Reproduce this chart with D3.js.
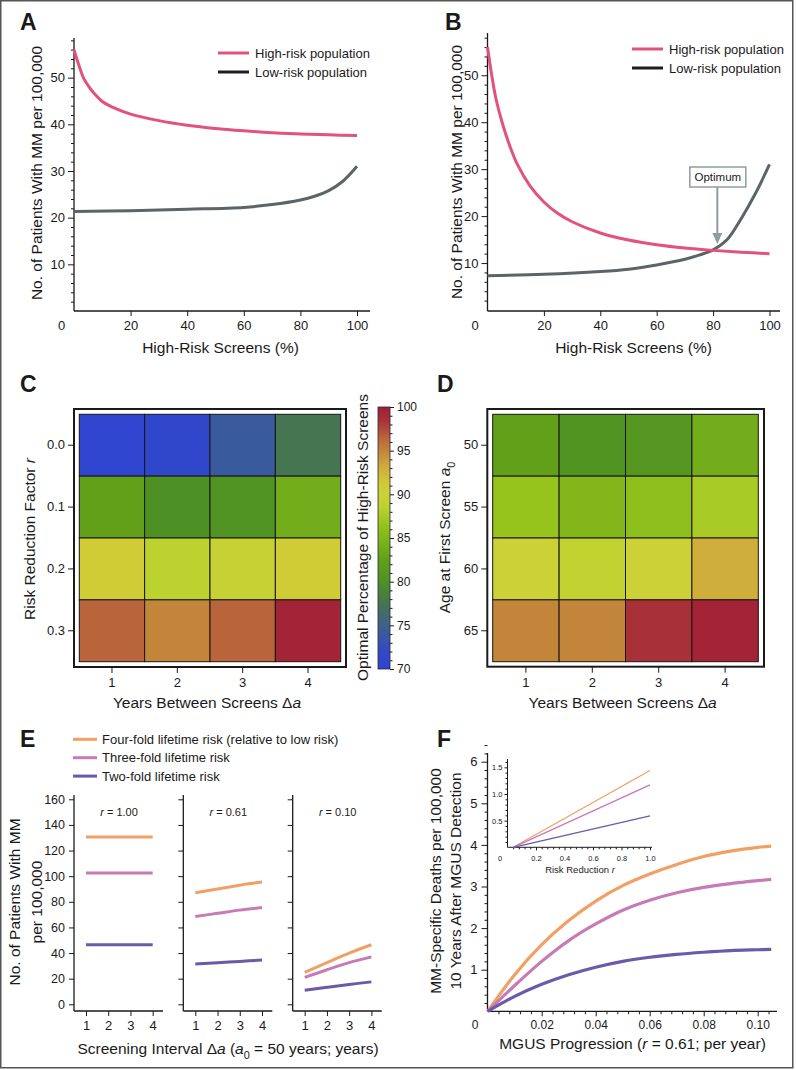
<!DOCTYPE html>
<html>
<head>
<meta charset="utf-8">
<script src="https://cdn.jsdelivr.net/npm/d3@7"></script>
<style>
body { margin: 0; background: #fff; }
svg { display: block; }
text { font-family: "Liberation Sans", Arial, Helvetica, sans-serif; fill: #1a1a1a; }
</style>
</head>
<body>
<script>
// ---- data ----

// panel A
const pctHighA = [0, 1, 2, 3.3, 5, 7, 10, 15, 20, 30, 40, 50, 60, 70, 80, 90, 100];
const highRiskA = [56, 54, 52.2, 50, 48.3, 46.7, 44.9, 43.3, 42.2, 40.8, 39.8, 39.1, 38.6, 38.2, 37.95, 37.75, 37.6];
const pctLowA = [0, 20, 40, 60, 70, 80, 85, 90, 95, 100];
const lowRiskA = [21.3, 21.5, 21.8, 22.2, 22.8, 23.8, 24.6, 25.8, 27.8, 31];

// panel B
const pctHighB = [0, 1.5, 3, 5.4, 8, 10.6, 15, 20, 24.6, 30, 40, 50, 60, 70, 80, 90, 100];
const highRiskB = [56, 50, 45, 39.5, 34.8, 31, 26.5, 23, 20.7, 18.8, 16.4, 14.9, 13.9, 13.2, 12.7, 12.3, 12.0];
const pctLowB = [0, 20, 40, 50, 60, 70, 75, 80, 85, 90, 95, 100];
const lowRiskB = [7.3, 7.6, 8.2, 8.7, 9.6, 10.8, 11.7, 12.8, 15, 19.5, 24.8, 31];
const optimumPct = 81.5;

const legendAB = ["High-risk population", "Low-risk population"];
const pctTicks = [0, 20, 40, 60, 80, 100];
const countTicks = [10, 20, 30, 40, 50];

// panels C and D (optimal percentage of high-risk screens)
const yearsBetween = [1, 2, 3, 4];
const riskFactors = ["0.0", "0.1", "0.2", "0.3"];
const optimalC = [
    [70.5, 71, 74, 77.5],
    [82.5, 80, 80.3, 84],
    [91, 88.5, 89.5, 91],
    [96.5, 95, 96.5, 99.5]
];
const firstAges = ["50", "55", "60", "65"];
const optimalD = [
    [82.5, 80.5, 81, 84],
    [86.5, 85, 86, 87.5],
    [90, 89, 90, 93],
    [95, 95, 98.5, 99.5]
];
const colorStops = [70, 72, 74, 77.5, 80, 82.5, 84, 86.5, 88.5, 90, 91, 93, 95, 96.5, 98.5, 100];
const colorHex = ["#2e44d2", "#3349c4", "#3a5a9e", "#457551", "#4d9124", "#62a01a", "#74ad1b", "#96c31c",
    "#bcd22e", "#cbd137", "#cfcc35", "#d0ae3c", "#c2853a", "#b9643a", "#a83038", "#a11e36"];
const colorbarTicks = [70, 75, 80, 85, 90, 95, 100];

// panel E
const intervalsE = [1, 2, 3, 4];
const rValuesE = ["1.00", "0.61", "0.10"];
const fourFoldE = [[130.5, 130.5, 130.5, 130.5], [87, 90, 93, 95.5], [25, 32.5, 40, 46.5]];
const threeFoldE = [[102.5, 102.5, 102.5, 102.5], [68.5, 71, 73.5, 75.5], [21, 27, 32.5, 37]];
const twoFoldE = [[46.5, 46.5, 46.5, 46.5], [31.5, 32.5, 33.5, 34.5], [11, 13.3, 15.5, 17.5]];
const foldLabels = ["Four-fold lifetime risk (relative to low risk)", "Three-fold lifetime risk", "Two-fold lifetime risk"];
const countTicksE = [0, 20, 40, 60, 80, 100, 120, 140, 160];

// panel F
const progression = [0, 0.01, 0.02, 0.03, 0.04, 0.05, 0.06, 0.07, 0.08, 0.09, 0.1, 0.105];
const fourFoldF = [0, 0.88, 1.6, 2.18, 2.65, 3.02, 3.3, 3.53, 3.72, 3.85, 3.94, 3.97];
const threeFoldF = [0, 0.62, 1.2, 1.7, 2.1, 2.43, 2.67, 2.85, 2.98, 3.07, 3.14, 3.17];
const twoFoldF = [0, 0.36, 0.65, 0.88, 1.06, 1.2, 1.3, 1.37, 1.42, 1.46, 1.48, 1.49];
const progTicks = [0, 0.02, 0.04, 0.06, 0.08, 0.10];
const deathTicks = [1, 2, 3, 4, 5, 6];
// inset
const riskReduction = [0.04, 1.0];
const fourFoldInset = [0, 1.44];
const threeFoldInset = [0, 1.17];
const twoFoldInset = [0, 0.59];
const insetXTicks = [0, 0.2, 0.4, 0.6, 0.8, 1.0];
const insetYTicks = [0.5, 1.0, 1.5];

// ---- drawing ----
const ink = "#1a1a1a";
const pink = "#e2527a", lowGray = "#5b6466";
const orange = "#f0a064", mauve = "#c77bb6", purple = "#6a5aa9";
const foldColors = [orange, mauve, purple];
const titleSize = 15.5;
const smooth = d3.curveCatmullRom.alpha(0.5);

var svg = d3.select("body").append("svg").attr("width", 796).attr("height", 1070);

function translate(x, y) {
    return "translate(" + String(x) + "," + String(y) + ")";
}

// outer frame of the figure
svg.append("rect")
    .attr("x", 0.75).attr("y", 0.75)
    .attr("width", 792).attr("height", 1067)
    .attr("fill", "none").attr("stroke", "#555").attr("stroke-width", 1.5);

function panelLetter(ch, x, y) {
    svg.append("text").attr("x", x).attr("y", y)
        .style("font-size", "23px").style("font-weight", "bold").text(ch);
}

// ticks from a d3 axis, without its domain path; fmt null = no labels
function axisTicks(g, gen, scale, values, size, fmt, fontSize, pad) {
    let a = gen(scale).tickValues(values).tickSize(size).tickSizeOuter(0).tickPadding(pad);
    if (fmt) a.tickFormat(fmt);
    let s = g.append("g").call(a);
    s.select(".domain").remove();
    s.selectAll("line").attr("stroke", ink);
    if (fmt === null) {
        s.selectAll("text").remove();
    } else {
        s.selectAll("text").attr("fill", ink)
            .style("font-size", fontSize + "px")
            .style("font-family", "'Liberation Sans', Arial, sans-serif");
    }
    return s;
}

function hline(g, x1, x2, y, w) {
    g.append("line").attr("x1", x1).attr("x2", x2).attr("y1", y).attr("y2", y)
        .attr("stroke", ink).attr("stroke-width", w || 1.3);
}
function vline(g, x, y1, y2, w) {
    g.append("line").attr("x1", x).attr("x2", x).attr("y1", y1).attr("y2", y2)
        .attr("stroke", ink).attr("stroke-width", w || 1.3);
}

// text made of parts, some italic or subscript
function richText(g, x, y, parts, size, rotate) {
    let t = g.append("text")
        .attr("text-anchor", "middle")
        .attr("transform", translate(x, y) + (rotate ? " rotate(-90)" : ""))
        .style("font-size", size + "px");
    if (rotate) t.attr("dy", "0.35em");
    parts.forEach(function(p) {
        if (typeof p === "string") p = {t: p};
        let s = t.append("tspan").text(p.t);
        if (p.i) s.style("font-style", "italic");
        if (p.sub) s.attr("dy", size * 0.3).style("font-size", (size * 0.7) + "px");
        if (p.up) s.attr("dy", -size * 0.3);
    });
    return t;
}

function minorValues(lo, hi, step, majorStep) {
    return d3.range(lo, hi + step / 2, step)
        .map(v => +v.toFixed(4))
        .filter(v => Math.abs(v / majorStep - Math.round(v / majorStep)) > 1e-6);
}

// ---- panels A and B ----
function riskPanel(p) {
    let g = svg.append("g");
    let x = d3.scaleLinear().domain([0, 100]).range(p.xr);
    let y = d3.scaleLinear().domain([0, p.ymax]).range(p.yr);

    let yg = g.append("g").attr("transform", translate(x(0), 0));
    axisTicks(yg, d3.axisLeft, y, countTicks, 6, d3.format("d"), 13, 3);
    axisTicks(yg, d3.axisLeft, y, minorValues(2, 58, 2, 10), 3, null, 13, 3);
    let xg = g.append("g").attr("transform", translate(0, p.axisY));
    let xt = axisTicks(xg, d3.axisBottom, x, pctTicks, 5, d3.format("d"), 13, 5);
    xt.selectAll(".tick").filter(d => d === 0).select("line").remove();
    xt.selectAll(".tick").filter(d => d === 0).select("text").attr("x", -13);

    vline(g, x(0), p.top, p.axisY);
    hline(g, x(0), p.xEnd, p.axisY);

    let lineHigh = d3.line().x((d, i) => x(p.pctHigh[i])).y(d => y(d)).curve(smooth);
    let lineLow = d3.line().x((d, i) => x(p.pctLow[i])).y(d => y(d)).curve(smooth);
    g.append("path").attr("d", lineLow(p.low)).attr("fill", "none")
        .attr("stroke", lowGray).attr("stroke-width", 3);
    g.append("path").attr("d", lineHigh(p.high)).attr("fill", "none")
        .attr("stroke", pink).attr("stroke-width", 3);

    // legend
    let colors = [pink, "#1e1e1e"];
    legendAB.forEach(function(name, i) {
        let ly = p.legend[1] + i * 19;
        g.append("line").attr("x1", p.legend[0]).attr("x2", p.legend[0] + 31)
            .attr("y1", ly).attr("y2", ly).attr("stroke", colors[i]).attr("stroke-width", 3);
        g.append("text").attr("x", p.legend[0] + 37).attr("y", ly).attr("dy", "0.36em")
            .style("font-size", "13px").text(name);
    });

    richText(g, p.ylab[0], p.ylab[1], ["No. of Patients With MM per 100,000"], titleSize, true);
    richText(g, (p.xr[0] + p.xr[1]) / 2 + 5, p.axisY + 42, ["High-Risk Screens (%)"], titleSize, false);
    return {g: g, x: x, y: y};
}

panelLetter("A", 20, 30);
riskPanel({
    xr: [74, 357], yr: [311, 38], ymax: 58.5, axisY: 311, top: 38, xEnd: 370,
    pctHigh: pctHighA, high: highRiskA, pctLow: pctLowA, low: lowRiskA,
    legend: [218, 53], ylab: [37, 173]
});

panelLetter("B", 445, 30);
let pB = riskPanel({
    xr: [487.5, 769.5], yr: [310, 33], ymax: 59, axisY: 311, top: 33, xEnd: 780,
    pctHigh: pctHighB, high: highRiskB, pctLow: pctLowB, low: lowRiskB,
    legend: [632, 49], ylab: [456.5, 172]
});

// optimum annotation
(function() {
    let ax = pB.x(optimumPct);
    let gray = "#8e9d9d";
    pB.g.append("line").attr("x1", ax).attr("x2", ax).attr("y1", 187).attr("y2", 235)
        .attr("stroke", gray).attr("stroke-width", 2);
    pB.g.append("path")
        .attr("d", "M" + (ax - 5) + ",233 L" + (ax + 5) + ",233 L" + ax + ",244 Z")
        .attr("fill", gray);
    pB.g.append("rect").attr("x", ax - 27.5).attr("y", 167).attr("width", 56).attr("height", 20)
        .attr("fill", "#fff").attr("stroke", gray).attr("stroke-width", 1.5);
    pB.g.append("text").attr("x", ax + 0.5).attr("y", 181).attr("text-anchor", "middle")
        .style("font-size", "11.5px").attr("fill", "#333").text("Optimum");
})();

// ---- panels C and D ----
const heatColor = d3.scaleLinear().domain(colorStops).range(colorHex).interpolate(d3.interpolateRgb);

function heatPanel(p) {
    let g = svg.append("g");
    g.append("rect")
        .attr("x", p.frame[0]).attr("y", p.frame[1])
        .attr("width", p.frame[2] - p.frame[0]).attr("height", p.frame[3] - p.frame[1])
        .attr("fill", "#fff").attr("stroke", ink).attr("stroke-width", 2);
    let x = d3.scaleBand().domain(yearsBetween).range([p.cells[0], p.cells[2]]);
    let y = d3.scaleBand().domain(p.rows).range([p.cells[1], p.cells[3]]);

    let cells = [];
    p.values.forEach(function(row, i) {
        row.forEach(function(v, j) {
            cells.push({row: p.rows[i], col: yearsBetween[j], v: v});
        });
    });
    g.selectAll("rect.cell").data(cells).enter().append("rect")
        .attr("class", "cell")
        .attr("x", d => x(d.col)).attr("y", d => y(d.row))
        .attr("width", x.bandwidth()).attr("height", y.bandwidth())
        .attr("fill", d => heatColor(d.v))
        .attr("stroke", "#161616").attr("stroke-width", 1);

    let yg = g.append("g").attr("transform", translate(p.frame[0], 0));
    axisTicks(yg, d3.axisLeft, y, p.rows, 6, undefined, 13, 3);
    let xg = g.append("g").attr("transform", translate(0, p.frame[3]));
    axisTicks(xg, d3.axisBottom, x, yearsBetween, 6, undefined, 13, 5);

    richText(g, p.ylab[0], p.ylab[1], p.ylabParts, titleSize, true);
    richText(g, (p.frame[0] + p.frame[2]) / 2 - 3, 708,
        ["Years Between Screens \u0394", {t: "a", i: true}], titleSize, false);
}

panelLetter("C", 20, 392);
heatPanel({
    frame: [74, 409, 346, 667], cells: [79.3, 414.3, 340.7, 661.7],
    rows: riskFactors, values: optimalC,
    ylab: [29.5, 539], ylabParts: ["Risk Reduction Factor ", {t: "r", i: true}]
});

panelLetter("D", 437, 392);
heatPanel({
    frame: [487.3, 409, 764, 666.7], cells: [492.7, 414.3, 758.3, 661.7],
    rows: firstAges, values: optimalD,
    ylab: [445, 537.5], ylabParts: ["Age at First Screen ", {t: "a", i: true}, {t: "0", sub: true}]
});

// colorbar
(function() {
    let g = svg.append("g");
    let c = d3.scaleLinear().domain([70, 100]).range([669, 407]);
    let grad = svg.append("defs").append("linearGradient").attr("id", "cbar")
        .attr("x1", 0).attr("y1", 1).attr("x2", 0).attr("y2", 0);
    grad.selectAll("stop").data(colorStops).enter().append("stop")
        .attr("offset", d => ((d - 70) / 30 * 100) + "%")
        .attr("stop-color", d => heatColor(d));
    g.append("rect").attr("x", 378).attr("y", c(100)).attr("width", 12).attr("height", c(70) - c(100))
        .attr("fill", "url(#cbar)").attr("stroke", "#2a2a3a").attr("stroke-width", 0.8);
    let ag = g.append("g").attr("transform", translate(390, 0));
    axisTicks(ag, d3.axisRight, c, colorbarTicks, 4, d3.format("d"), 12, 3);
    axisTicks(ag, d3.axisRight, c, minorValues(71, 99, 1, 5), 2.5, null, 12, 3);
    richText(g, 362.5, 537.5, ["Optimal Percentage of High-Risk Screens"], titleSize, true);
})();

// ---- panel E ----
panelLetter("E", 20, 747);
(function() {
    let g = svg.append("g");
    let y = d3.scaleLinear().domain([0, 160]).range([1004.3, 799.3]);
    let subX = [74, 183.3, 292.7];

    foldLabels.forEach(function(name, i) {
        let ly = 739.3 + i * 18.4;
        g.append("line").attr("x1", 73).attr("x2", 97).attr("y1", ly).attr("y2", ly)
            .attr("stroke", foldColors[i]).attr("stroke-width", 3);
        g.append("text").attr("x", 102).attr("y", ly).attr("dy", "0.36em")
            .style("font-size", "13px").text(name);
    });

    subX.forEach(function(ax, k) {
        let x = d3.scaleLinear().domain([1, 4]).range([ax + 12, ax + 78.7]);
        let yg = g.append("g").attr("transform", translate(ax, 0));
        axisTicks(yg, d3.axisLeft, y, countTicksE, 5, k === 0 ? d3.format("d") : null, 12.5, 4);
        let xg = g.append("g").attr("transform", translate(0, 1011));
        axisTicks(xg, d3.axisBottom, x, intervalsE, 5, d3.format("d"), 13, 5);
        vline(g, ax, 795, 1011);
        hline(g, ax, ax + 89, 1011);

        let line = d3.line().x((d, i) => x(intervalsE[i])).y(d => y(d)).curve(smooth);
        [fourFoldE, threeFoldE, twoFoldE].forEach(function(series, s) {
            g.append("path").attr("d", line(series[k])).attr("fill", "none")
                .attr("stroke", foldColors[s]).attr("stroke-width", 3);
        });

        let t = g.append("text").attr("x", ax + 45).attr("y", 816).attr("text-anchor", "middle")
            .style("font-size", "11px");
        t.append("tspan").style("font-style", "italic").text("r");
        t.append("tspan").text(" = " + rValuesE[k]);
    });

    richText(g, 14.5, 902, ["No. of Patients With MM"], titleSize, true);
    richText(g, 36.5, 902, ["per 100,000"], titleSize, true);
    richText(g, 228, 1054, ["Screening Interval \u0394", {t: "a", i: true}, " (", {t: "a", i: true},
        {t: "0", sub: true}, {t: " = 50 years; years)", up: true}], titleSize, false);
})();

// ---- panel F ----
panelLetter("F", 437, 747);
(function() {
    let g = svg.append("g");
    let x = d3.scaleLinear().domain([0, 0.1]).range([487.7, 757.7]);
    let y = d3.scaleLinear().domain([0, 6]).range([1011.3, 761.7]);

    let yg = g.append("g").attr("transform", translate(487.5, 0));
    axisTicks(yg, d3.axisLeft, y, deathTicks, 6, d3.format("d"), 13, 4);
    axisTicks(yg, d3.axisLeft, y, minorValues(0.2, 6.4, 0.2, 1), 3, null, 13, 3);
    let xg = g.append("g").attr("transform", translate(0, 1011.3));
    let xt = axisTicks(xg, d3.axisBottom, x, progTicks, 5, v => v === 0 ? "0" : d3.format(".2f")(v), 12, 4);
    xt.selectAll(".tick").filter(d => d === 0).select("line").remove();
    xt.selectAll(".tick").filter(d => d === 0).select("text").attr("x", -13);
    axisTicks(xg, d3.axisBottom, x, minorValues(0.004, 0.104, 0.004, 0.02), 3, null, 12, 3);
    vline(g, 487.5, 753, 1011.3);
    hline(g, 487.5, 777, 1011.3);

    let line = d3.line().x((d, i) => x(progression[i])).y(d => y(d)).curve(smooth);
    [fourFoldF, threeFoldF, twoFoldF].forEach(function(series, s) {
        g.append("path").attr("d", line(series)).attr("fill", "none")
            .attr("stroke", foldColors[s]).attr("stroke-width", 3.2);
    });

    richText(g, 436, 881, ["MM-Specific Deaths per 100,000"], titleSize, true);
    richText(g, 455.5, 881, ["10 Years After MGUS Detection"], titleSize, true);
    richText(g, 632.5, 1048.5, ["MGUS Progression (", {t: "r", i: true}, " = 0.61; per year)"], titleSize, false);

    // inset
    let ix = d3.scaleLinear().domain([0, 1]).range([507.5, 650]);
    let iy = d3.scaleLinear().domain([0, 1.66]).range([847.3, 758.8]);
    let iyg = g.append("g").attr("transform", translate(507.5, 0));
    axisTicks(iyg, d3.axisLeft, iy, insetYTicks, 3, d3.format(".1f"), 7.5, 2);
    axisTicks(iyg, d3.axisLeft, iy, minorValues(0.1, 1.6, 0.1, 0.5), 2, null, 7.5, 2);
    let ixg = g.append("g").attr("transform", translate(0, 847.3));
    let ixt = axisTicks(ixg, d3.axisBottom, ix, insetXTicks, 3, v => v === 0 ? "0" : d3.format(".1f")(v), 7.5, 5);
    ixt.selectAll(".tick").filter(d => d === 0).select("line").remove();
    ixt.selectAll(".tick").filter(d => d === 0).select("text").attr("x", -8);
    axisTicks(ixg, d3.axisBottom, ix, minorValues(0.04, 0.96, 0.04, 0.2), 2, null, 7.5, 2);
    ixt.selectAll("text").attr("fill", "#444");
    iyg.selectAll("text").attr("fill", "#444");
    vline(g, 507.5, 759, 847.3, 1);
    hline(g, 507.5, 652, 847.3, 1);

    let iline = d3.line().x((d, i) => ix(riskReduction[i])).y(d => iy(d));
    [fourFoldInset, threeFoldInset, twoFoldInset].forEach(function(series, s) {
        g.append("path").attr("d", iline(series)).attr("fill", "none")
            .attr("stroke", foldColors[s]).attr("stroke-width", 1.3);
    });
    let t = g.append("text").attr("x", 580).attr("y", 872.5).attr("text-anchor", "middle")
        .style("font-size", "9.5px").attr("fill", "#333");
    t.append("tspan").text("Risk Reduction ");
    t.append("tspan").style("font-style", "italic").text("r");
})();
</script>
</body>
</html>
